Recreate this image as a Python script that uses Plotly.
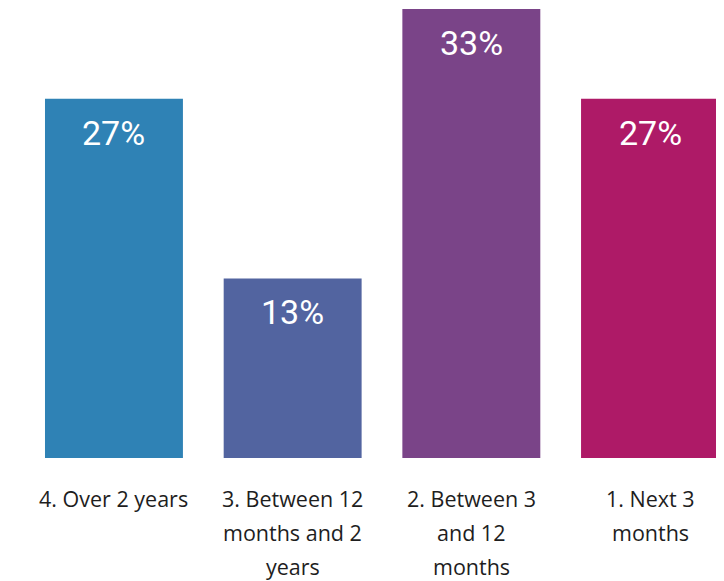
import plotly.graph_objects as go

categories = ["4. Over 2 years", "3. Between 12 months and 2 years",
              "2. Between 3 and 12 months", "1. Next 3 months"]
tick_lines = [["4. Over 2 years"],
              ["3. Between 12", "months and 2", "years"],
              ["2. Between 3", "and 12", "months"],
              ["1. Next 3", "months"]]
values = [26.67, 13.33, 33.33, 26.67]
value_labels = ["27%", "13%", "33%", "27%"]
colors = ["#2F82B5", "#5264A0", "#7A4488", "#AE1A67"]

fig = go.Figure()
fig.add_trace(go.Bar(x=categories, y=values, marker=dict(color=colors, line=dict(width=0)),
                     hoverinfo="skip"))

for cat, v, lab in zip(categories, values, value_labels):
    fig.add_annotation(x=cat, y=v, xref="x", yref="y", text=lab, showarrow=False,
                       yanchor="top", yshift=-12,
                       font=dict(family="Roboto", size=34, color="white"))

for cat, lines in zip(categories, tick_lines):
    for i, line in enumerate(lines):
        fig.add_annotation(x=cat, y=0, xref="x", yref="paper", text=line, showarrow=False,
                           yanchor="middle", yshift=-40 - 34 * i,
                           font=dict(family="Open Sans", size=21.5, color="#1e1e1e"))

fig.update_layout(
    width=716, height=573,
    margin=dict(l=0, r=0, t=0, b=123),
    paper_bgcolor="white", plot_bgcolor="white",
    bargap=0.228, showlegend=False,
    xaxis=dict(range=[-0.593, 3.414], showticklabels=False, showgrid=False,
               zeroline=False, showline=False, ticks=""),
    yaxis=dict(range=[0, 33.41], visible=False, showgrid=False),
)

fig.write_html("out.html")
